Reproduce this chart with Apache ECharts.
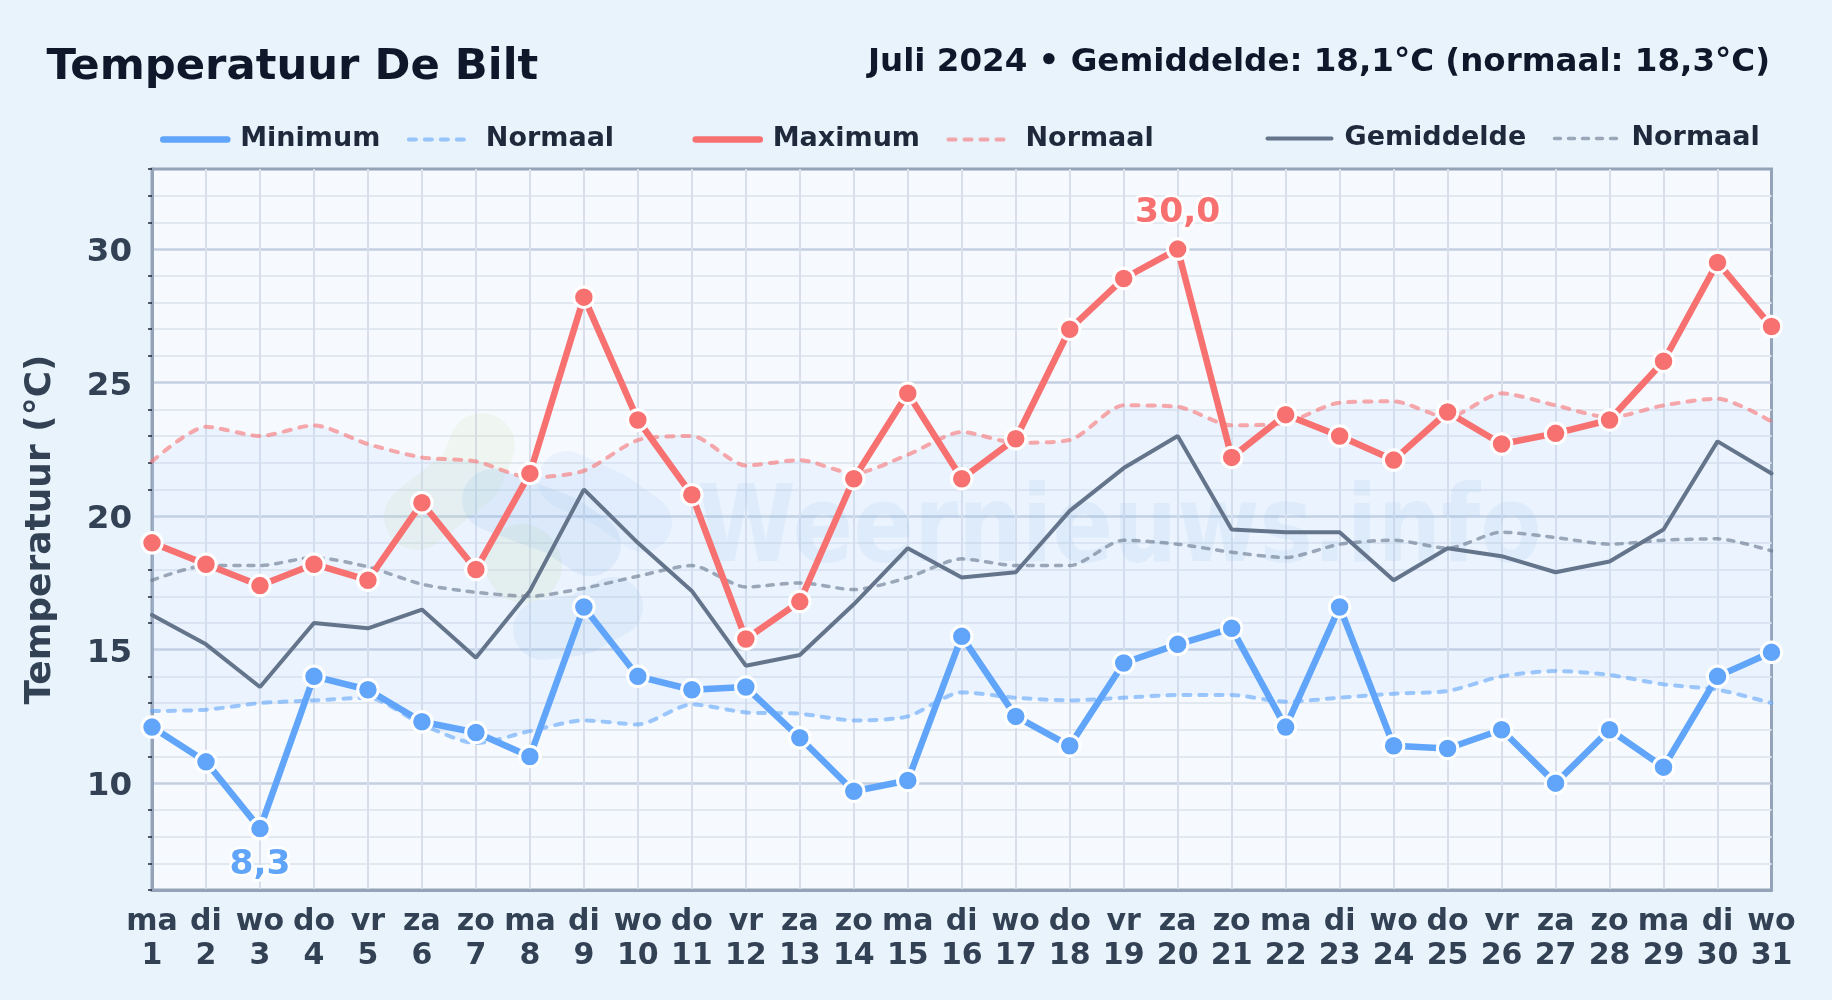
<!DOCTYPE html>
<html><head><meta charset="utf-8">
<style>html,body{margin:0;padding:0;background:#e9f3fc}#c{width:1832px;height:1000px}</style>
<script src="https://cdn.jsdelivr.net/npm/echarts@6/dist/echarts.min.js"></script>
</head><body><div id="c"></div>
<script>
const weekdays=['ma','di','wo','do','vr','za','zo','ma','di','wo','do','vr','za','zo','ma','di','wo','do','vr','za','zo','ma','di','wo','do','vr','za','zo','ma','di','wo'];
const dayNumbers=[1,2,3,4,5,6,7,8,9,10,11,12,13,14,15,16,17,18,19,20,21,22,23,24,25,26,27,28,29,30,31];
const minimum=[12.1,10.8,8.3,14.0,13.5,12.3,11.9,11.0,16.6,14.0,13.5,13.6,11.7,9.7,10.1,15.5,12.5,11.4,14.5,15.2,15.8,12.1,16.6,11.4,11.3,12.0,10.0,12.0,10.6,14.0,14.9];
const maximum=[19.0,18.2,17.4,18.2,17.6,20.5,18.0,21.6,28.2,23.6,20.8,15.4,16.8,21.4,24.6,21.4,22.9,27.0,28.9,30.0,22.2,23.8,23.0,22.1,23.9,22.7,23.1,23.6,25.8,29.5,27.1];
const gemiddelde=[16.3,15.2,13.6,16.0,15.8,16.5,14.7,17.2,21.0,19.0,17.2,14.4,14.8,16.7,18.8,17.7,17.9,20.2,21.8,23.0,19.5,19.4,19.4,17.6,18.8,18.5,17.9,18.3,19.5,22.8,21.6];
const normaalMin=[12.7,12.75,13.0,13.1,13.2,12.2,11.5,11.95,12.35,12.2,12.95,12.65,12.6,12.35,12.5,13.4,13.2,13.1,13.2,13.3,13.3,13.05,13.2,13.35,13.45,14.0,14.2,14.05,13.7,13.5,13.0];
const normaalMax=[22.05,23.35,23.0,23.4,22.7,22.2,22.05,21.45,21.7,22.85,23.0,21.9,22.1,21.6,22.3,23.15,22.75,22.85,24.15,24.1,23.4,23.5,24.25,24.3,23.7,24.6,24.15,23.7,24.15,24.4,23.55];
const normaalGem=[17.6,18.15,18.15,18.45,18.1,17.45,17.15,17.0,17.3,17.75,18.15,17.35,17.5,17.25,17.7,18.4,18.15,18.15,19.1,18.95,18.65,18.45,18.95,19.1,18.8,19.4,19.2,18.95,19.1,19.15,18.7];
const minorTicks=[6,7,8,9,11,12,13,14,16,17,18,19,21,22,23,24,26,27,28,29,31,32,33];
const majorTicks=[10,15,20,25,30];

const FONT='"DejaVu Sans"';
const categories=weekdays.map((d,i)=>d+'\n'+dayNumbers[i]);
const BLUE='#60a5fa',RED='#f87171',GRAY='#64748b';
const chart=echarts.init(document.getElementById('c'),null,{renderer:'canvas'});

function mainSeries(name,data,color,labelIdx,labelPos,labelDist){
  return {name,type:'line',data:data.map((v,i)=>i===labelIdx?{value:v,label:{show:true,position:labelPos,distance:labelDist,
      formatter:String(v.toFixed(1)).replace('.',','),fontFamily:FONT,fontWeight:'bold',fontSize:34.5,color,
      textBorderColor:'#fff',textBorderWidth:5}}:v),
    symbol:'circle',symbolSize:20.5,showSymbol:true,showAllSymbol:true,clip:false,z:5,
    lineStyle:{color,width:6.5,cap:'round',join:'round'},itemStyle:{color,borderColor:'#fff',borderWidth:3}};
}
function normalSeries(name,data,color,dash,width,opacity){
  return {name,type:'line',data,symbol:'none',smooth:0.25,clip:false,z:3,
    lineStyle:{color,width,type:dash,cap:'round',opacity},itemStyle:{color,opacity}};
}
function legendAt(left,names){
  return {left,top:119,orient:'horizontal',data:names,itemWidth:64,itemHeight:36,itemGap:26.5,
    formatter:n=>n.startsWith('Normaal')?'Normaal':n,
    selectedMode:false,
    lineStyle:{width:'inherit',cap:'round',opacity:'inherit'},
    itemStyle:{opacity:0},
    textStyle:{fontFamily:FONT,fontWeight:'bold',fontSize:27,color:'#1e293b',padding:[0,0,0,8]}};
}
const wmColor='rgba(100,165,225,';
const greenColor='rgba(190,220,140,';
function blob(points,width,color){
  return {type:'polyline',z:1,silent:true,shape:{points},style:{stroke:color,lineWidth:width,lineCap:'round',lineJoin:'round',fill:null}};
}
chart.setOption({
  animation:false,
  backgroundColor:'#e9f3fc',
  title:[
    {text:'Temperatuur De Bilt',left:41.5,top:41,textStyle:{fontFamily:FONT,fontWeight:'bold',fontSize:43.3,color:'#0f172a'}},
    {text:'Juli 2024 • Gemiddelde: 18,1°C (normaal: 18,3°C)',right:57,top:41,textStyle:{fontFamily:FONT,fontWeight:'bold',fontSize:32.5,color:'#0f172a'}}
  ],
  legend:[legendAt(155,['Minimum','Normaal min']),legendAt(687.5,['Maximum','Normaal max']),legendAt(1260.5,['Gemiddelde','Normaal gem'])],
  grid:{left:152,top:169,width:1619.5,height:721,show:true,backgroundColor:'#f6faff',borderColor:'#94a3b8',borderWidth:3,containLabel:false,outerBoundsMode:'none'},
  xAxis:{type:'category',data:categories,boundaryGap:false,
    axisLine:{show:true,lineStyle:{color:'#94a3b8',width:3}},axisTick:{show:false},
    axisLabel:{interval:0,hideOverlap:false,margin:15,fontFamily:FONT,fontWeight:'bold',fontSize:30,lineHeight:34,color:'#334155'},
    splitLine:{show:true,showMinLine:false,showMaxLine:false,lineStyle:{color:'#d8dfeb',width:2}}},
  yAxis:[
    {type:'value',min:6,max:33,interval:1,name:'Temperatuur (°C)',nameLocation:'middle',nameRotate:90,nameGap:93,
     nameTextStyle:{fontFamily:FONT,fontWeight:'bold',fontSize:36,color:'#334155'},
     axisLine:{show:true,lineStyle:{color:'#94a3b8',width:3}},
     axisTick:{show:true,length:4,customValues:minorTicks,lineStyle:{color:'#1e293b',width:1.5}},
     axisLabel:{show:true,customValues:majorTicks,margin:20,verticalAlign:'top',lineHeight:7,fontFamily:FONT,fontWeight:'bold',fontSize:32.5,color:'#334155'},
     splitLine:{show:true,showMinLine:false,showMaxLine:false,lineStyle:{color:'#e2e8f0',width:2}}},
    {type:'value',min:6,max:33,interval:1,position:'left',
     axisLine:{show:false},axisLabel:{show:false},
     axisTick:{show:false,customValues:majorTicks},
     splitLine:{show:true,lineStyle:{color:'#c3cfe0',width:2.5}}}
  ],
  graphic:{elements:[
    {type:'group',silent:true,z:1,children:[
      blob([[482,446],[470,475],[417,517]],66,greenColor+'0.12)'),
      blob([[522,562],[524,565]],76,greenColor+'0.16)'),
      blob([[493,500],[560,525],[590,545]],62,wmColor+'0.13)'),
      blob([[567,480],[610,500],[643,523]],58,wmColor+'0.08)'),
      blob([[543,630],[580,625],[613,607]],60,wmColor+'0.10)'),
      {type:'text',z:1,silent:true,x:697,y:533,scaleX:1,scaleY:1.19,style:{text:'Weernieuws.info',x:0,y:0,verticalAlign:'middle',font:'bold 89.5px "DejaVu Sans"',fill:wmColor+'0.10)'}}
    ]}
  ]},
  series:[
    {name:'bandBase',type:'line',stack:'band',data:normaalMin,symbol:'none',smooth:0.25,lineStyle:{width:0},areaStyle:{opacity:0},z:2,silent:true},
    {name:'band',type:'line',stack:'band',data:normaalMax.map((v,i)=>v-normaalMin[i]),symbol:'none',smooth:0.25,lineStyle:{width:0},areaStyle:{color:'rgba(190,216,250,0.28)'},z:2,silent:true},
    normalSeries('Normaal min',normaalMin,BLUE,[7,9],4,0.6),
    normalSeries('Normaal max',normaalMax,RED,[7,9],4,0.6),
    normalSeries('Normaal gem',normaalGem,GRAY,[6,8],3.5,0.6),
    {name:'Gemiddelde',type:'line',data:gemiddelde,symbol:'none',clip:false,z:4,lineStyle:{color:GRAY,width:4,cap:'round'},itemStyle:{color:GRAY}},
    mainSeries('Minimum',minimum,BLUE,2,'bottom',7),
    mainSeries('Maximum',maximum,RED,19,'top',7)
  ]
});
</script></body></html>
